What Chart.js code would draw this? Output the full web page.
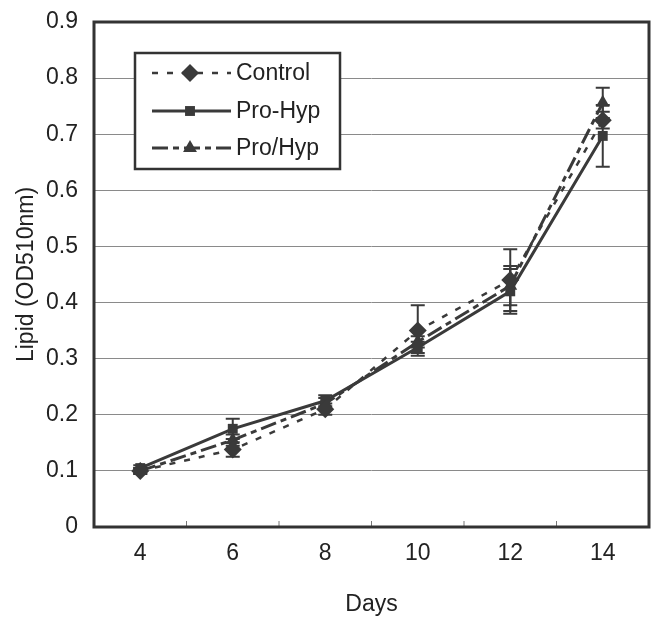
<!DOCTYPE html>
<html>
<head>
<meta charset="utf-8">
<script src="https://cdn.jsdelivr.net/npm/chart.js@4.4.1/dist/chart.umd.min.js"></script>
<style>
  html, body { margin: 0; padding: 0; background: #fff; overflow: hidden; }
  canvas { display: block; }
</style>
</head>
<body>
<canvas id="lipidChart" width="651" height="618"></canvas>
<script>
// days on the x axis
const days = ['4', '6', '8', '10', '12', '14'];

// mean lipid (OD510nm) per group
const controlValues = [0.100, 0.138, 0.210, 0.350, 0.440, 0.725];
const proHypValues = [0.105, 0.175, 0.225, 0.320, 0.420, 0.697];
const proSlashHypValues = [0.100, 0.155, 0.220, 0.330, 0.430, 0.756];

// error bar half-widths
const controlErr = [0.005, 0.013, 0.010, 0.045, 0.055, 0.015];
const proHypErr = [0.005, 0.018, 0.010, 0.010, 0.040, 0.055];
const proSlashHypErr = [0.005, 0.010, 0.010, 0.010, 0.035, 0.027];

const yTicks = [0, 0.1, 0.2, 0.3, 0.4, 0.5, 0.6, 0.7, 0.8, 0.9];

const INK = '#3a3a3a';
const FONT = "'Liberation Sans', Arial, sans-serif";

const errorBars = {
    id: 'errorBars',
    beforeDatasetsDraw(chart) {
        const { ctx, scales: { y } } = chart;
        ctx.save();
        ctx.strokeStyle = INK;
        ctx.lineWidth = 2;
        chart.data.datasets.forEach((ds, di) => {
            const meta = chart.getDatasetMeta(di);
            ds.errors.forEach((e, i) => {
                const px = meta.data[i].x;
                const top = y.getPixelForValue(ds.data[i] + e);
                const bot = y.getPixelForValue(ds.data[i] - e);
                ctx.beginPath();
                ctx.moveTo(px, top); ctx.lineTo(px, bot);
                ctx.moveTo(px - 7, top); ctx.lineTo(px + 7, top);
                ctx.moveTo(px - 7, bot); ctx.lineTo(px + 7, bot);
                ctx.stroke();
            });
        });
        ctx.restore();
    }
};

const frame = {
    id: 'frame',
    afterDraw(chart) {
        const { ctx, chartArea: a, scales: { x } } = chart;
        ctx.save();
        // small inward tick marks between categories
        ctx.strokeStyle = '#777';
        ctx.lineWidth = 1;
        for (let i = 0; i < days.length - 1; i++) {
            const bx = (x.getPixelForValue(i) + x.getPixelForValue(i + 1)) / 2;
            ctx.beginPath();
            ctx.moveTo(bx, a.bottom); ctx.lineTo(bx, a.bottom - 6);
            ctx.stroke();
        }
        ctx.strokeStyle = '#333';
        ctx.lineWidth = 3;
        ctx.strokeRect(a.left, a.top, a.right - a.left, a.bottom - a.top);

        // legend
        const lx = 135, ly = 53, lw = 205, lh = 116;
        ctx.fillStyle = '#fff';
        ctx.fillRect(lx, ly, lw, lh);
        ctx.lineWidth = 2.5;
        ctx.strokeRect(lx, ly, lw, lh);
        const rows = [73, 111, 148];
        chart.data.datasets.forEach((ds, di) => {
            const ry = rows[di];
            ctx.strokeStyle = INK;
            ctx.lineWidth = ds.borderWidth;
            ctx.setLineDash(ds.borderDash || []);
            ctx.beginPath();
            ctx.moveTo(152, ry); ctx.lineTo(231, ry);
            ctx.stroke();
            ctx.setLineDash([]);
            ctx.fillStyle = INK;
            Chart.helpers.drawPoint(ctx, {
                pointStyle: ds.pointStyle, radius: ds.pointRadius, rotation: 0, borderWidth: 0
            }, 190, ry);
            ctx.fillStyle = '#222';
            ctx.font = '23px ' + FONT;
            ctx.textBaseline = 'middle';
            ctx.fillText(ds.label, 236, ry + 1);
        });
        ctx.restore();
    }
};

new Chart(document.getElementById('lipidChart'), {
    type: 'line',
    data: {
        labels: days,
        datasets: [
            {
                label: 'Control', data: controlValues, errors: controlErr,
                borderColor: INK, backgroundColor: INK, borderWidth: 2.5, borderDash: [6, 9],
                pointStyle: 'rectRot', pointRadius: 9, pointBorderWidth: 0, tension: 0
            },
            {
                label: 'Pro-Hyp', data: proHypValues, errors: proHypErr,
                borderColor: INK, backgroundColor: INK, borderWidth: 3,
                pointStyle: 'rect', pointRadius: 7, pointBorderWidth: 0, tension: 0
            },
            {
                label: 'Pro/Hyp', data: proSlashHypValues, errors: proSlashHypErr,
                borderColor: INK, backgroundColor: INK, borderWidth: 3, borderDash: [16, 5, 6, 5],
                pointStyle: 'triangle', pointRadius: 8, pointBorderWidth: 0, tension: 0
            }
        ]
    },
    options: {
        responsive: false,
        animation: false,
        layout: { autoPadding: false, padding: { top: 22, right: 2, left: 0, bottom: 0 } },
        plugins: { legend: { display: false }, tooltip: { enabled: false } },
        scales: {
            x: {
                offset: true,
                grid: { display: false },
                border: { display: false },
                ticks: { color: '#222', font: { family: FONT, size: 23 }, padding: 5 },
                title: { display: true, text: 'Days', color: '#222', font: { family: FONT, size: 23 }, padding: { top: 0, bottom: 0 } },
                afterFit: (s) => { s.height = 91; s.paddingLeft = 0; s.paddingRight = 0; }
            },
            y: {
                min: 0, max: 0.9,
                afterBuildTicks: (s) => { s.ticks = yTicks.map(v => ({ value: v })); },
                grid: { color: '#8a8a8a', lineWidth: 1, drawTicks: false },
                border: { display: false },
                ticks: {
                    color: '#222', font: { family: FONT, size: 23 }, padding: 16,
                    callback: (v) => v === 0 ? '0' : v.toFixed(1)
                },
                title: { display: true, text: 'Lipid (OD510nm)', color: '#222', font: { family: FONT, size: 23 }, padding: { top: 13, bottom: 0 } },
                afterFit: (s) => { s.width = 94; s.paddingTop = 0; s.paddingBottom = 0; }
            }
        }
    },
    plugins: [errorBars, frame]
});
</script>
</body>
</html>
